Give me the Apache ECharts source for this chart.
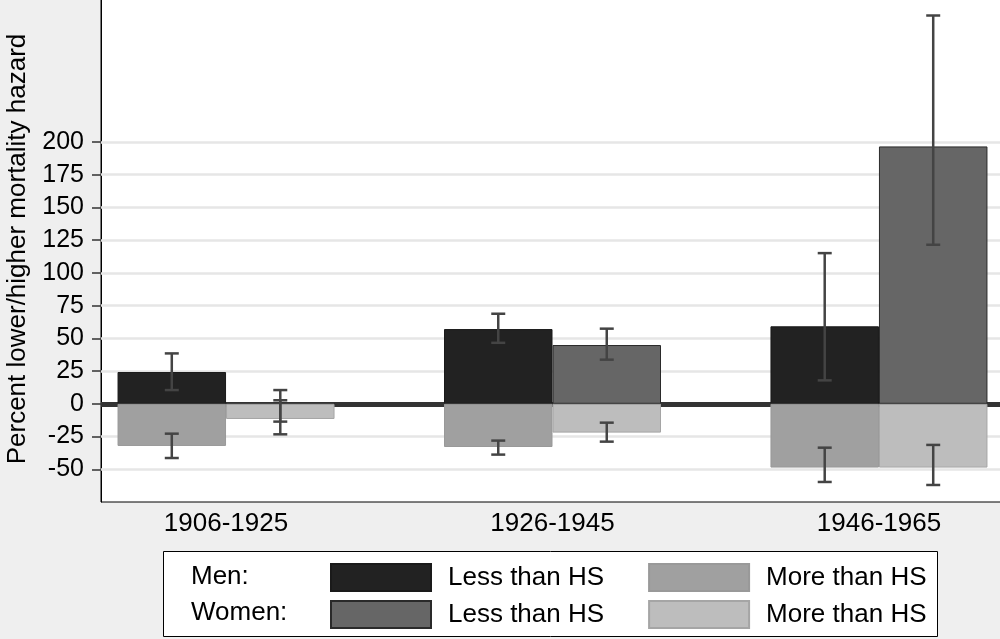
<!DOCTYPE html>
<html>
<head>
    <meta charset="utf-8">
    <script src="https://cdn.jsdelivr.net/npm/echarts@6/dist/echarts.min.js"></script>
</head>
<body style="margin:0">
<div id="main" style="width: 1000px;height:639px;"></div>
<script type="text/javascript">
    // categories and values
    var categories = ['1906-1925', '1926-1945', '1946-1965'];
    var menLess = [24.3, 57.1, 59.2];
    var menMore = [-32.2, -33.0, -48.7];
    var womenLess = [0, 44.9, 196.6];
    var womenMore = [-11.6, -22.0, -48.7];
    // confidence intervals [low, high]
    var menLessCI = [[10.5, 38.5], [46.6, 68.8], [17.9, 115.1]];
    var menMoreCI = [[-41.4, -22.8], [-38.8, -28.1], [-59.7, -33.5]];
    var womenLessCI = [[-13.6, 10.5], [33.7, 57.4], [121.5, 296.6]];
    var womenMoreCI = [[-23.3, 2.7], [-28.9, -14.4], [-62.0, -31.4]];
    var yTicks = [-50, -25, 0, 25, 50, 75, 100, 125, 150, 175, 200];

    var font = 'Liberation Sans';
    var barW = 108.5;

    function pairs(vals) {
        return vals.map(function (v, i) { return [i + 1, v]; });
    }
    function ciRows(a, b) {
        var res = [];
        for (var i = 0; i < a.length; i++) {
            res.push([i + 1, a[i][0], a[i][1]]);
            res.push([i + 1, b[i][0], b[i][1]]);
        }
        return res;
    }
    function errorBars(off) {
        return function (params, api) {
            var x = api.value(0);
            var pLo = api.coord([x, api.value(1)]);
            var pHi = api.coord([x, api.value(2)]);
            var cx = pLo[0] + off;
            var st = {stroke: '#444', lineWidth: 2.5};
            return {
                type: 'group',
                children: [
                    {type: 'line', shape: {x1: cx, y1: pLo[1], x2: cx, y2: pHi[1]}, style: st},
                    {type: 'line', shape: {x1: cx - 7, y1: pLo[1], x2: cx + 7, y2: pLo[1]}, style: st},
                    {type: 'line', shape: {x1: cx - 7, y1: pHi[1], x2: cx + 7, y2: pHi[1]}, style: st}
                ]
            };
        };
    }
    function legendRow(top, names) {
        return {
            left: 330,
            top: top,
            padding: 0,
            itemWidth: 100,
            itemHeight: 27,
            itemGap: 44,
            icon: 'rect',
            selectedMode: false,
            data: names,
            formatter: function (n) { return n.split(': ')[1]; },
            textStyle: {color: '#000', fontSize: 26, padding: [0, 0, 0, 12]}
        };
    }

    var myChart = echarts.init(document.getElementById('main'));

    var gridLines = yTicks.filter(function (v) { return v !== 0; }).map(function (v) {
        return {yAxis: v};
    });
    gridLines.push({yAxis: 0, lineStyle: {color: '#333', width: 5}});

    var option = {
        animation: false,
        backgroundColor: '#efefef',
        textStyle: {fontFamily: font},
        grid: {
            left: 101, right: -4, top: -4, bottom: 137,
            outerBoundsMode: 'none',
            containLabel: false,
            show: true, backgroundColor: '#fff', borderColor: '#000', borderWidth: 1
        },
        xAxis: {
            type: 'value',
            min: 0.617,
            max: 3.383,
            axisLine: {show: false},
            axisTick: {show: false},
            splitLine: {show: false},
            axisLabel: {
                customValues: [1, 2, 3],
                formatter: function (v) { return categories[Math.round(v) - 1]; },
                color: '#000', fontSize: 26, margin: 9
            }
        },
        yAxis: {
            type: 'value',
            min: -75,
            max: 311.5,
            name: 'Percent lower/higher mortality hazard',
            nameLocation: 'middle',
            nameGap: 70,
            nameTextStyle: {color: '#000', fontSize: 26},
            axisLine: {show: true, lineStyle: {color: '#000', width: 1}},
            axisTick: {show: true, customValues: yTicks, length: 9, lineStyle: {color: '#333', width: 1.5}},
            splitLine: {show: false},
            axisLabel: {customValues: yTicks, color: '#000', fontSize: 25, margin: 17}
        },
        legend: [
            legendRow(563, ['Men: Less than HS', 'Men: More than HS']),
            legendRow(600, ['Women: Less than HS', 'Women: More than HS'])
        ],
        graphic: [
            {type: 'rect', left: 163, top: 551, shape: {width: 774, height: 85},
                style: {fill: '#fff', stroke: '#000', lineWidth: 1}, z: -1},
            {type: 'text', left: 191, top: 564, style: {text: 'Men:', fill: '#000', font: '26px "Liberation Sans"'}},
            {type: 'text', left: 191, top: 600, style: {text: 'Women:', fill: '#000', font: '26px "Liberation Sans"'}}
        ],
        series: [
            {
                name: 'Men: Less than HS', type: 'bar', stack: 'men',
                barWidth: barW, barGap: '0%',
                itemStyle: {color: '#222', borderColor: '#1a1a1a', borderWidth: 1},
                data: pairs(menLess),
                markLine: {
                    silent: true, z: 1, symbol: ['none', 'none'],
                    label: {show: false},
                    lineStyle: {color: '#e6e6e6', width: 2.5, type: 'solid'},
                    data: gridLines
                }
            },
            {
                name: 'Women: Less than HS', type: 'bar', stack: 'women',
                barWidth: barW, barGap: '0%',
                itemStyle: {color: '#666', borderColor: '#2a2a2a', borderWidth: 1},
                data: pairs(womenLess)
            },
            {
                name: 'Men: More than HS', type: 'bar', stack: 'men',
                barWidth: barW, barGap: '0%',
                itemStyle: {color: '#a0a0a0', borderColor: '#999', borderWidth: 1},
                data: pairs(menMore)
            },
            {
                name: 'Women: More than HS', type: 'bar', stack: 'women',
                barWidth: barW, barGap: '0%',
                itemStyle: {color: '#bdbdbd', borderColor: '#a5a5a5', borderWidth: 1},
                data: pairs(womenMore)
            },
            {
                type: 'custom', name: 'men ci',
                renderItem: errorBars(-barW / 2),
                encode: {x: 0, y: [1, 2]},
                data: ciRows(menLessCI, menMoreCI),
                z: 5
            },
            {
                type: 'custom', name: 'women ci',
                renderItem: errorBars(barW / 2),
                encode: {x: 0, y: [1, 2]},
                data: ciRows(womenLessCI, womenMoreCI),
                z: 5
            }
        ]
    };
    myChart.setOption(option);
</script>
</body>
</html>
